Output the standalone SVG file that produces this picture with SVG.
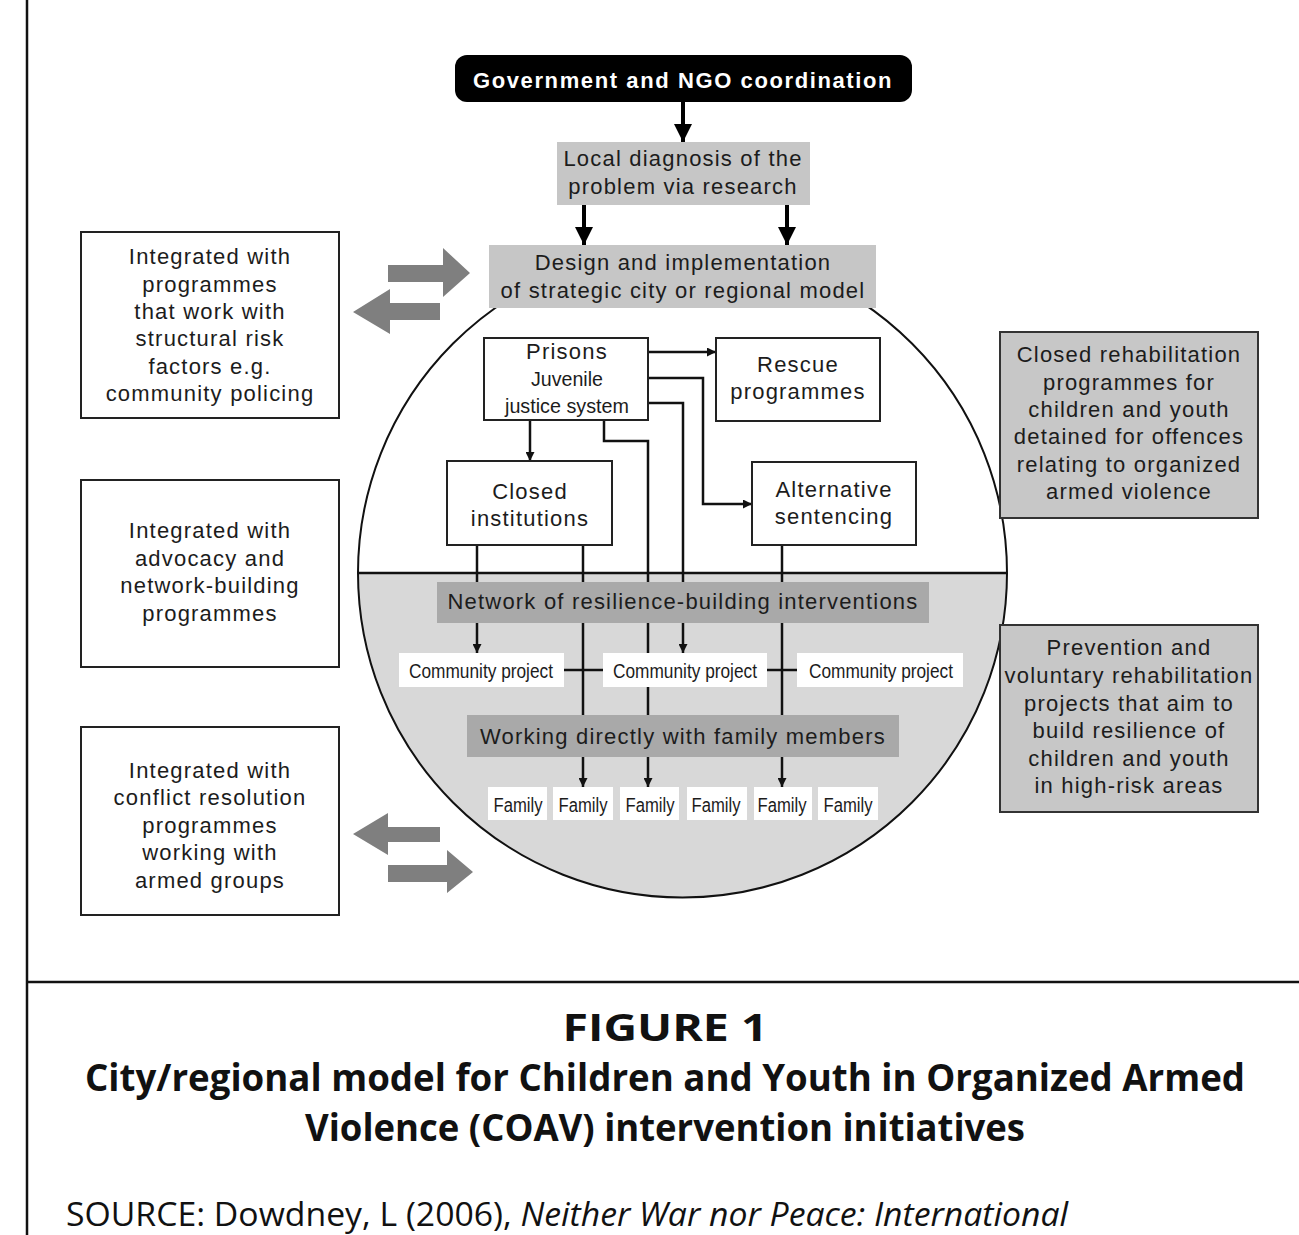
<svg xmlns="http://www.w3.org/2000/svg" width="1299" height="1235" viewBox="0 0 1299 1235">
<style>
.t{font-family:"Liberation Sans",Arial,sans-serif;font-size:22px;letter-spacing:1.2px;fill:#1c1c1c;text-anchor:middle}
.c{font-family:"Liberation Sans",Arial,sans-serif;font-size:20px;fill:#1c1c1c;text-anchor:middle}
.wb{fill:#fff;stroke:#222;stroke-width:2}
.gb{fill:#c7c7c7;stroke:#333;stroke-width:2}
.lg{fill:#c6c6c6}
.dg{fill:#a9a9a9}
.pw{fill:#fff}
.ln{fill:none;stroke:#111;stroke-width:2.5}
.th{fill:none;stroke:#000;stroke-width:4}
.ga{fill:#7f7f7f}
.cap{font-family:"Open Sans","Liberation Sans",sans-serif;font-weight:bold;fill:#111;text-anchor:middle}
</style>
<defs>
<marker id="ah" viewBox="0 0 10 10" refX="10" refY="5" markerWidth="4" markerHeight="3.6" orient="auto" markerUnits="strokeWidth"><path d="M0,0 L10,5 L0,10 z" fill="#111"/></marker>
<marker id="bh" viewBox="0 0 10 10" refX="10" refY="5" markerWidth="4.5" markerHeight="5" orient="auto" markerUnits="strokeWidth"><path d="M0,0 L10,5 L0,10 z" fill="#000"/></marker>
</defs>
<rect width="1299" height="1235" fill="#fff"/>
<g id="frame">
<line x1="27" y1="0" x2="27" y2="1235" stroke="#111" stroke-width="2.5"/>
<line x1="27" y1="982" x2="1299" y2="982" stroke="#111" stroke-width="2.5"/>
</g>
<g id="circle">
<path d="M358,573 A324.5,324.5 0 0 1 1007,573 Z" fill="#fff"/>
<path d="M358,573 A324.5,324.5 0 0 0 1007,573 Z" fill="#d8d8d8"/>
<circle cx="682.5" cy="573" r="324.5" fill="none" stroke="#111" stroke-width="2"/>
<line x1="358" y1="573" x2="1007" y2="573" stroke="#111" stroke-width="2.5"/>
</g>
<g id="connectors">
<line x1="683" y1="102" x2="683" y2="142" class="th" marker-end="url(#bh)"/>
<line x1="584" y1="205" x2="584" y2="245" class="th" marker-end="url(#bh)"/>
<line x1="787" y1="205" x2="787" y2="245" class="th" marker-end="url(#bh)"/>
<line x1="648" y1="352" x2="716" y2="352" class="ln" marker-end="url(#ah)"/>
<polyline points="648,378 703,378 703,504 752,504" class="ln" marker-end="url(#ah)"/>
<polyline points="648,403 683,403 683,582" class="ln"/>
<polyline points="604,420 604,441 648,441 648,715" class="ln"/>
<line x1="530" y1="420" x2="530" y2="461" class="ln" marker-end="url(#ah)"/>
<line x1="477" y1="545" x2="477" y2="582" class="ln"/>
<line x1="583" y1="545" x2="583" y2="715" class="ln"/>
<line x1="782" y1="545" x2="782" y2="715" class="ln"/>
<line x1="477" y1="623" x2="477" y2="653" class="ln" marker-end="url(#ah)"/>
<line x1="683" y1="623" x2="683" y2="653" class="ln" marker-end="url(#ah)"/>
<line x1="564" y1="670" x2="603" y2="670" class="ln"/>
<line x1="767" y1="670" x2="797" y2="670" class="ln"/>
<line x1="583" y1="757" x2="583" y2="787" class="ln" marker-end="url(#ah)"/>
<line x1="648" y1="757" x2="648" y2="787" class="ln" marker-end="url(#ah)"/>
<line x1="782" y1="757" x2="782" y2="787" class="ln" marker-end="url(#ah)"/>
<polygon class="ga" points="388,265 443,265 443,248 470,273 443,297 443,282 388,282"/>
<polygon class="ga" points="440,303 390,303 390,289 353,312 390,334 390,320 440,320"/>
<polygon class="ga" points="440,827 388,827 388,813 353,834 388,855 388,842 440,842"/>
<polygon class="ga" points="388,865 447,865 447,850 473,872 447,893 447,882 388,882"/>
</g>
<g id="gov">
<rect x="455" y="55" width="457" height="47" rx="12" fill="#000"/>
<text x="683" y="88" class="t" style="font-weight:bold;fill:#fff;letter-spacing:1.6px">Government and NGO coordination</text>
</g>
<g id="diagnosis">
<rect x="557" y="142" width="253" height="63" class="lg"/>
<text x="683" y="166" class="t">Local diagnosis of the</text>
<text x="683" y="194" class="t">problem via research</text>
</g>
<g id="design">
<rect x="489" y="245" width="387" height="63" class="lg"/>
<text x="683" y="270" class="t">Design and implementation</text>
<text x="683" y="298" class="t">of strategic city or regional model</text>
</g>
<g id="left1">
<rect x="81" y="232" width="258" height="186" class="wb"/>
<text x="210" y="264" class="t">Integrated with</text>
<text x="210" y="292" class="t">programmes</text>
<text x="210" y="319" class="t">that work with</text>
<text x="210" y="346" class="t">structural risk</text>
<text x="210" y="374" class="t">factors e.g.</text>
<text x="210" y="401" class="t">community policing</text>
</g>
<g id="left2">
<rect x="81" y="480" width="258" height="187" class="wb"/>
<text x="210" y="538" class="t">Integrated with</text>
<text x="210" y="566" class="t">advocacy and</text>
<text x="210" y="593" class="t">network-building</text>
<text x="210" y="621" class="t">programmes</text>
</g>
<g id="left3">
<rect x="81" y="727" width="258" height="188" class="wb"/>
<text x="210" y="778" class="t">Integrated with</text>
<text x="210" y="805" class="t">conflict resolution</text>
<text x="210" y="833" class="t">programmes</text>
<text x="210" y="860" class="t">working with</text>
<text x="210" y="888" class="t">armed groups</text>
</g>
<g id="right1">
<rect x="1000" y="332" width="258" height="186" class="gb"/>
<text x="1129" y="362" class="t">Closed rehabilitation</text>
<text x="1129" y="390" class="t">programmes for</text>
<text x="1129" y="417" class="t">children and youth</text>
<text x="1129" y="444" class="t">detained for offences</text>
<text x="1129" y="472" class="t">relating to organized</text>
<text x="1129" y="499" class="t">armed violence</text>
</g>
<g id="right2">
<rect x="1000" y="625" width="258" height="187" class="gb"/>
<text x="1129" y="655" class="t">Prevention and</text>
<text x="1129" y="683" class="t">voluntary rehabilitation</text>
<text x="1129" y="711" class="t">projects that aim to</text>
<text x="1129" y="738" class="t">build resilience of</text>
<text x="1129" y="766" class="t">children and youth</text>
<text x="1129" y="793" class="t">in high-risk areas</text>
</g>
<g id="prisons">
<rect x="484" y="338" width="164" height="82" class="wb"/>
<text x="567" y="359" class="t">Prisons</text>
<text x="567" y="386" class="c" textLength="72" lengthAdjust="spacingAndGlyphs">Juvenile</text>
<text x="567" y="413" class="c" textLength="124" lengthAdjust="spacingAndGlyphs">justice system</text>
</g>
<g id="rescue">
<rect x="716" y="338" width="164" height="83" class="wb"/>
<text x="798" y="372" class="t">Rescue</text>
<text x="798" y="399" class="t">programmes</text>
</g>
<g id="closed">
<rect x="447" y="461" width="165" height="84" class="wb"/>
<text x="530" y="499" class="t">Closed</text>
<text x="530" y="526" class="t">institutions</text>
</g>
<g id="alternative">
<rect x="752" y="462" width="164" height="83" class="wb"/>
<text x="834" y="497" class="t">Alternative</text>
<text x="834" y="524" class="t">sentencing</text>
</g>
<g id="network">
<rect x="437" y="582" width="492" height="41" class="dg"/>
<text x="683" y="609" class="t">Network of resilience-building interventions</text>
</g>
<g id="community1">
<rect x="399" y="653" width="165" height="34" class="pw"/>
<text x="481" y="678" class="c" textLength="144" lengthAdjust="spacingAndGlyphs">Community project</text>
</g>
<g id="community2">
<rect x="603" y="653" width="164" height="34" class="pw"/>
<text x="685" y="678" class="c" textLength="144" lengthAdjust="spacingAndGlyphs">Community project</text>
</g>
<g id="community3">
<rect x="797" y="653" width="166" height="34" class="pw"/>
<text x="881" y="678" class="c" textLength="144" lengthAdjust="spacingAndGlyphs">Community project</text>
</g>
<g id="working">
<rect x="467" y="715" width="432" height="42" class="dg"/>
<text x="683" y="744" class="t">Working directly with family members</text>
</g>
<g id="families">
<rect x="488" y="787" width="59" height="33" class="pw"/>
<text x="518" y="812" class="c" textLength="49" lengthAdjust="spacingAndGlyphs">Family</text>
<rect x="553" y="787" width="60" height="33" class="pw"/>
<text x="583" y="812" class="c" textLength="49" lengthAdjust="spacingAndGlyphs">Family</text>
<rect x="620" y="787" width="59" height="33" class="pw"/>
<text x="650" y="812" class="c" textLength="49" lengthAdjust="spacingAndGlyphs">Family</text>
<rect x="687" y="787" width="60" height="33" class="pw"/>
<text x="716" y="812" class="c" textLength="49" lengthAdjust="spacingAndGlyphs">Family</text>
<rect x="754" y="787" width="58" height="33" class="pw"/>
<text x="782" y="812" class="c" textLength="49" lengthAdjust="spacingAndGlyphs">Family</text>
<rect x="818" y="787" width="60" height="33" class="pw"/>
<text x="848" y="812" class="c" textLength="49" lengthAdjust="spacingAndGlyphs">Family</text>
</g>
<g id="caption">
<text x="665" y="1041" class="cap" font-size="38" textLength="205" lengthAdjust="spacingAndGlyphs">FIGURE 1</text>
<text x="665" y="1091" class="cap" font-size="38" textLength="1160" lengthAdjust="spacingAndGlyphs">City/regional model for Children and Youth in Organized Armed</text>
<text x="665" y="1141" class="cap" font-size="38" textLength="720" lengthAdjust="spacingAndGlyphs">Violence (COAV) intervention initiatives</text>
<text x="66" y="1226" font-family="'Open Sans','Liberation Sans',sans-serif" font-size="32" fill="#111" textLength="1002" lengthAdjust="spacingAndGlyphs">SOURCE: Dowdney, L (2006), <tspan font-style="italic">Neither War nor Peace: International</tspan></text>
</g>
</svg>
